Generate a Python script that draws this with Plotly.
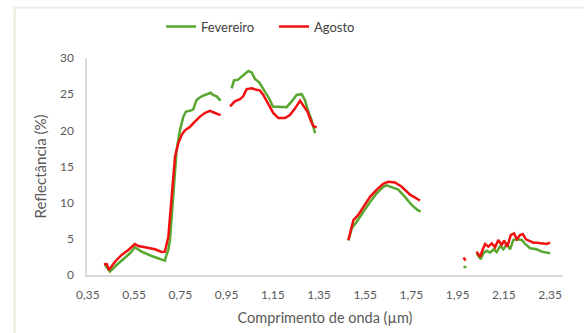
import plotly.graph_objects as go

# Spectral reflectance curves (wavelength in µm, reflectance in %);
# None marks the water-absorption gaps where the curve is broken.
wl_fevereiro = [
    0.424, 0.445, 0.474, 0.503, 0.532, 0.553, 0.582, 0.626, 0.669, 0.683, 0.690,
    0.698, 0.705, 0.712, 0.722, 0.734, 0.748, 0.763, 0.774, 0.792, 0.806, 0.820,
    0.842, 0.864, 0.881, 0.892, 0.907, 0.924,
    None,
    0.972, 0.982, 1.000, 1.022, 1.044, 1.059, 1.073, 1.092, 1.109, 1.124, 1.138,
    1.150, 1.167, 1.189, 1.210, 1.232, 1.253, 1.275, 1.289, 1.304, 1.318, 1.333,
    None,
    1.477, 1.492, 1.513, 1.542, 1.571, 1.600, 1.628, 1.643, 1.665, 1.693, 1.722,
    1.751, 1.776, 1.790,
    None,
    1.975, 1.988,
    None,
    2.032, 2.050, 2.061, 2.076, 2.090, 2.105, 2.119, 2.134, 2.148, 2.163, 2.177,
    2.191, 2.206, 2.228, 2.242, 2.264, 2.292, 2.314, 2.350,
]
ref_fevereiro = [
    1.38, 0.46, 1.38, 2.17, 3.00, 3.83, 3.23, 2.63, 2.07, 1.98, 2.77,
    3.46, 4.84, 8.06, 12.8, 17.3, 20.0, 21.9, 22.6, 22.7, 22.9, 24.2,
    24.7, 25.0, 25.2, 24.9, 24.7, 24.1,
    None,
    25.8, 26.9, 27.0, 27.6, 28.2, 28.0, 27.1, 26.6, 25.7, 25.1, 24.2,
    23.3, 23.3, 23.2, 23.2, 24.0, 24.9, 25.0, 24.2, 22.6, 21.4, 19.6,
    None,
    4.75, 6.45, 7.37, 8.76, 10.1, 11.3, 12.2, 12.4, 12.1, 11.8, 10.8,
    9.68, 8.99, 8.76,
    None,
    1.10, 1.10,
    None,
    3.00, 2.17, 3.00, 3.36, 3.09, 3.55, 3.18, 4.01, 3.55, 4.29, 3.55,
    4.84, 4.93, 4.84, 4.29, 3.69, 3.55, 3.23, 3.00,
]

wl_agosto = [
    0.419, 0.431, 0.441, 0.467, 0.496, 0.525, 0.553, 0.568, 0.597, 0.640, 0.669,
    0.676, 0.683, 0.698, 0.708, 0.717, 0.727, 0.741, 0.756, 0.770, 0.792, 0.813,
    0.835, 0.856, 0.878, 0.900, 0.924,
    None,
    0.965, 0.986, 1.008, 1.022, 1.037, 1.059, 1.080, 1.095, 1.109, 1.131, 1.152,
    1.174, 1.203, 1.224, 1.246, 1.268, 1.282, 1.300, 1.314, 1.325, 1.340,
    None,
    1.477, 1.487, 1.499, 1.520, 1.542, 1.571, 1.600, 1.628, 1.650, 1.679, 1.708,
    1.744, 1.766, 1.787,
    None,
    1.975, 1.985,
    None,
    2.032, 2.047, 2.061, 2.069, 2.083, 2.098, 2.112, 2.126, 2.141, 2.151, 2.165,
    2.180, 2.194, 2.206, 2.220, 2.232, 2.246, 2.260, 2.278, 2.292, 2.314, 2.336,
    2.350,
]
ref_agosto = [
    1.48, 1.52, 0.69, 1.84, 2.77, 3.46, 4.29, 4.01, 3.83, 3.55, 3.18,
    3.22, 3.22, 5.30, 8.99, 12.7, 16.4, 18.2, 19.4, 20.0, 20.5, 21.2,
    21.9, 22.4, 22.7, 22.4, 22.1,
    None,
    23.3, 24.0, 24.3, 24.7, 25.7, 25.8, 25.6, 25.5, 24.9, 23.7, 22.4,
    21.7, 21.7, 22.1, 23.0, 24.1, 23.5, 22.6, 21.4, 20.6, 20.4,
    None,
    4.84, 6.20, 7.60, 8.30, 9.45, 10.8, 11.8, 12.6, 12.9, 12.8, 12.2,
    11.1, 10.7, 10.3,
    None,
    2.40, 2.00,
    None,
    3.23, 2.53, 3.69, 4.29, 3.92, 4.38, 3.83, 4.84, 4.15, 4.75, 3.92,
    5.53, 5.76, 4.93, 5.53, 5.67, 4.93, 4.75, 4.47, 4.47, 4.38, 4.29,
    4.47,
]

x_ticks = [0.35, 0.55, 0.75, 0.95, 1.15, 1.35, 1.55, 1.75, 1.95, 2.15, 2.35]
y_ticks = [0, 5, 10, 15, 20, 25, 30]

FONT = "Lato"
TICK_COLOR = "#595959"
AXIS_LINE = "#d9d9d9"

fig = go.Figure()
fig.add_trace(go.Scatter(
    x=wl_fevereiro, y=ref_fevereiro, name="Fevereiro", mode="lines",
    line=dict(color="#58a830", width=2.5), connectgaps=False,
))
fig.add_trace(go.Scatter(
    x=wl_agosto, y=ref_agosto, name="Agosto", mode="lines",
    line=dict(color="#f01010", width=2.5), connectgaps=False,
))

# thin beige frame around the chart area
fig.add_shape(
    type="rect", xref="paper", yref="paper",
    x0=-0.152, x1=1.10, y0=-0.40, y1=1.232,
    line=dict(color="#eeece1", width=2), fillcolor="rgba(0,0,0,0)", layer="below",
)

fig.update_layout(
    width=584, height=333,
    margin=dict(l=87, r=21, t=58, b=58),
    paper_bgcolor="white", plot_bgcolor="white",
    separators=", ",
    font=dict(family=FONT, color=TICK_COLOR),
    showlegend=True,
    legend=dict(
        orientation="h", x=0.1555, xanchor="left", y=1.145, yanchor="middle",
        font=dict(family=FONT, size=13, color="#404040"),
        bgcolor="rgba(0,0,0,0)", itemwidth=30, tracegroupgap=0,
        entrywidth=68, entrywidthmode="pixels",
    ),
    xaxis=dict(
        range=[0.346, 2.406], tickvals=x_ticks, tickformat=".2f",
        showgrid=False, zeroline=False, automargin=False,
        showline=True, linecolor=AXIS_LINE, linewidth=1.5,
        ticks="outside", ticklen=8, tickcolor="rgba(0,0,0,0)",
        tickfont=dict(family=FONT, size=12, color=TICK_COLOR),
        title=dict(text="Comprimento de onda (µm)", standoff=12,
                   font=dict(family=FONT, size=14.5, color=TICK_COLOR)),
    ),
    yaxis=dict(
        range=[0, 30], tickvals=y_ticks,
        showgrid=False, zeroline=False, automargin=False,
        showline=True, linecolor=AXIS_LINE, linewidth=1.5,
        ticks="outside", ticklen=9, tickcolor="rgba(0,0,0,0)",
        tickfont=dict(family=FONT, size=12, color=TICK_COLOR),
        title=dict(text="Reflectância (%)", standoff=10,
                   font=dict(family=FONT, size=15, color=TICK_COLOR)),
    ),
)

fig.write_html("out.html")
